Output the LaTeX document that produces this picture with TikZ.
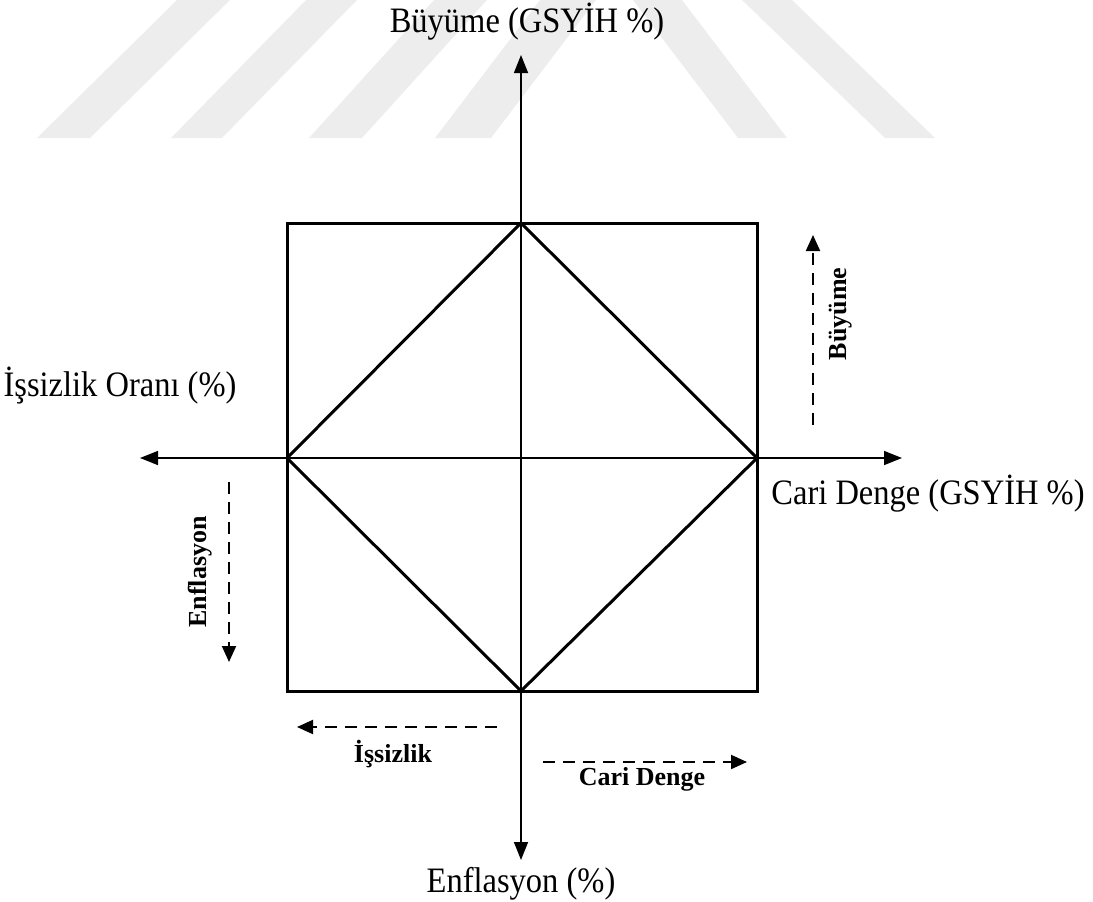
\documentclass[tikz,border=0pt]{standalone}
\usepackage{fontspec}
\setmainfont{Liberation Serif}
\usetikzlibrary{arrows.meta}
\newcommand{\tallbox}[1]{\scalebox{1}[1.1]{#1}}
\begin{document}
\begin{tikzpicture}[x=1pt,y=-1pt,
  axisline/.style={line width=1.5pt,-{Triangle[length=18pt,width=14pt]}},
  frameline/.style={line width=3pt,line join=miter},
  dasharrow/.style={line width=2pt,dash pattern=on 12pt off 8pt,-{Triangle[length=16pt,width=14pt]}},
  mainlabel/.style={font=\fontsize{32.5}{36}\selectfont,inner sep=0pt},
  boldlabel/.style={font=\fontsize{26}{30}\selectfont\bfseries,inner sep=0pt},
  stripe/.style={fill=black!7,draw=none}]
\useasboundingbox (0,0) rectangle (1093,902);
% watermark stripes
\fill[stripe] (37,138) -- (90,138) -- (230,0) -- (177,0) -- cycle;
\fill[stripe] (171,138) -- (222,138) -- (357,0) -- (306,0) -- cycle;
\fill[stripe] (309,138) -- (362,138) -- (487,0) -- (434,0) -- cycle;
\fill[stripe] (435,138) -- (491,138) -- (596,0) -- (540,0) -- cycle;
\fill[stripe] (738,138) -- (787,138) -- (682,0) -- (633,0) -- cycle;
\fill[stripe] (885,138) -- (935,138) -- (792,0) -- (742,0) -- cycle;
% key points
\coordinate (O) at (521,458);
\coordinate (T) at (521,223);
\coordinate (B) at (521,691);
\coordinate (L) at (287,458);
\coordinate (R) at (757,458);
\coordinate (TL) at (287,223);
\coordinate (TR) at (757,223);
\coordinate (BL) at (287,691);
\coordinate (BR) at (757,691);
\coordinate (up) at (521,55);
\coordinate (down) at (521,860);
\coordinate (left) at (140,458);
\coordinate (right) at (902,458);
% square and diamond
\draw[frameline] (TL) -- (TR) -- (BR) -- (BL) -- cycle;
\draw[frameline] (T) -- (R) -- (B) -- (L) -- cycle;
% axes
\draw[axisline] (O) -- (up);
\draw[axisline] (O) -- (down);
\draw[axisline] (O) -- (left);
\draw[axisline] (O) -- (right);
% axis labels
\node[mainlabel] (ltop) at (527,22) {\tallbox{Büyüme (GSYİH \%)}};
\node[mainlabel] (lleft) at (120,386) {\tallbox{İşsizlik Oranı (\%)}};
\node[mainlabel] (lright) at (928,494) {\tallbox{Cari Denge (GSYİH \%)}};
\node[mainlabel] (lbottom) at (521,884) {\tallbox{Enflasyon (\%)}};
% dashed direction arrows
\coordinate (g1) at (813,425); \coordinate (g2) at (813,235);
\coordinate (e1) at (229,482); \coordinate (e2) at (229,662);
\coordinate (u1) at (497,727); \coordinate (u2) at (297,727);
\coordinate (c1) at (543,762); \coordinate (c2) at (747,762);
\draw[dasharrow] (g1) -- (g2);
\draw[dasharrow] (e1) -- (e2);
\draw[dasharrow] (u1) -- (u2);
\draw[dasharrow] (c1) -- (c2);
\node[boldlabel,rotate=90] (bg) at (841,314) {Büyüme};
\node[boldlabel,rotate=90] (be) at (200,572) {Enflasyon};
\node[boldlabel] (bu) at (393,754) {İşsizlik};
\node[boldlabel] (bc) at (642,779) {Cari Denge};
\end{tikzpicture}
\end{document}
